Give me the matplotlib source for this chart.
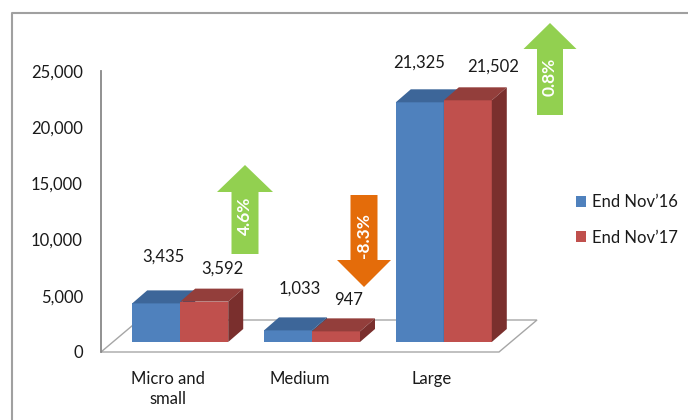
import matplotlib
matplotlib.use("Agg")
import matplotlib.pyplot as plt
from matplotlib.patches import Polygon, Patch
from matplotlib.lines import Line2D

plt.rcParams['font.family'] = ['Lato', 'DejaVu Sans']

# ---------------- data ----------------
categories = ["Micro and\nsmall", "Medium", "Large"]
series_names = ["End Nov\u201916", "End Nov\u201917"]
nov16 = [3435, 1033, 21325]
nov17 = [3592, 947, 21502]
yticks = [0, 5000, 10000, 15000, 20000, 25000]

# ---------------- style ----------------
W, H = 688, 420
front_cols = ["#4F81BD", "#C0504D"]
top_cols = ["#3D6699", "#933E3B"]
side_cols = ["#2F5079", "#7A2F2D"]
txt_col = "#1A1A1A"
FS = 12

# label offsets (pixels) relative to front-top centre of each bar: [series][category]
label_off = [[(7, 47), (12, 42), (-1, 40)],
             [(18, 33), (13, 31), (25, 34)]]

fig = plt.figure(figsize=(W / 100, H / 100), dpi=100)

def fr(l, t, w, h):
    return [l / W, 1 - (t + h) / H, w / W, h / H]

def P(x, y):
    return (x / W, 1 - y / H)

XL = (-0.51, 2.51)
YL = (0, 25000)
AW, AH = 398, 281

# front plane of floor (axis labels)
axf = fig.add_axes(fr(101, 352 - AH, AW, AH))
# plane where bars stand
ax = fig.add_axes(fr(113, 342 - AH, AW, AH))
for a in (axf, ax):
    a.set_xlim(*XL)
    a.set_ylim(*YL)
    a.patch.set_visible(False)
    for s in a.spines.values():
        s.set_visible(False)

axf.set_zorder(1)
ax.set_zorder(2)

# floor
fdx, fdy = 38 / AW, 32 / AH
floor = Polygon([(0, 0), (1, 0), (1 + fdx, fdy), (fdx, fdy)], closed=True,
                transform=axf.transAxes, facecolor="white", edgecolor="#A6A6A6",
                lw=1.0, clip_on=False)
axf.add_patch(floor)
axf.spines['left'].set_visible(True)
axf.spines['left'].set_color("#888888")
axf.spines['left'].set_linewidth(1.3)

axf.set_yticks(yticks)
axf.set_yticklabels([f"{v:,}" for v in yticks], fontsize=FS, color=txt_col)
axf.tick_params(axis='y', length=0, pad=13)
axf.set_xticks(range(len(categories)))
axf.set_xticklabels(categories, fontsize=FS, color=txt_col, linespacing=1.25)
axf.tick_params(axis='x', length=0, pad=14)

ax.set_xticks([])
ax.set_yticks([])

# bars with 3D faces
bw = 48 / AW * (XL[1] - XL[0])
DX = 15 / AW * (XL[1] - XL[0])
DY = 13 / AH * (YL[1] - YL[0])
series = [nov16, nov17]
for s, vals in enumerate(series):
    for i, v in enumerate(vals):
        x0 = i - bw + s * bw
        x1 = x0 + bw
        ax.bar(x0, v, width=bw, align='edge', color=front_cols[s], lw=0,
               zorder=3 + s * 3, clip_on=False)
        ax.add_patch(Polygon([(x0, v), (x1, v), (x1 + DX, v + DY), (x0 + DX, v + DY)],
                             closed=True, facecolor=top_cols[s], lw=0,
                             zorder=4 + s * 3, clip_on=False))
        ax.add_patch(Polygon([(x1, 0), (x1 + DX, DY), (x1 + DX, v + DY), (x1, v)],
                             closed=True, facecolor=side_cols[s], lw=0,
                             zorder=4 + s * 3, clip_on=False))
        ox, oy = label_off[s][i]
        ax.annotate(f"{v:,}", (x0 + bw / 2, v), xytext=(ox, oy),
                    textcoords='offset pixels', ha='center', va='center',
                    fontsize=FS, color=txt_col, zorder=10, annotation_clip=False)

# change arrows (pixel geometry)
changes = [(b / a - 1) * 100 for a, b in zip(nov16, nov17)]
arrow_geom = [  # (cx, tip_y, head_base_y, tail_y, shaft_w, head_w, text_y)
    (245, 165, 192, 254, 27, 56, 216),
    (364, 287, 260, 195, 27, 54, 236),
    (550, 23, 49, 115, 26, 53, 77),
]
for ch, (cx, ty, hb, tl, sw, hw, tyy) in zip(changes, arrow_geom):
    col = "#92D050" if ch >= 0 else "#E46C0A"
    pts = [P(cx, ty), P(cx + hw / 2, hb), P(cx + sw / 2, hb), P(cx + sw / 2, tl),
           P(cx - sw / 2, tl), P(cx - sw / 2, hb), P(cx - hw / 2, hb)]
    fig.add_artist(Polygon(pts, closed=True, transform=fig.transFigure,
                           facecolor=col, edgecolor='none', zorder=20))
    fig.text(*P(cx, tyy), f"{ch:.1f}%", rotation=90,
             ha='center', va='center', color='white', fontweight='bold',
             fontsize=12.5, zorder=21)

# legend
handles = [Patch(facecolor=c, edgecolor='none') for c in front_cols]
fig.legend(handles, series_names, loc='center left',
           bbox_to_anchor=P(561, 220), frameon=False, fontsize=FS,
           handlelength=0.6, handleheight=0.6, handletextpad=0.35,
           labelspacing=1.15, labelcolor=txt_col)

# chart border
fig.add_artist(Line2D([12 / W, 12 / W, 1.0], [0.0, 1 - 13 / H, 1 - 13 / H],
                      transform=fig.transFigure, color="#A0A0A0", lw=1.5))

fig.savefig("out.png", dpi=100, facecolor="white")
